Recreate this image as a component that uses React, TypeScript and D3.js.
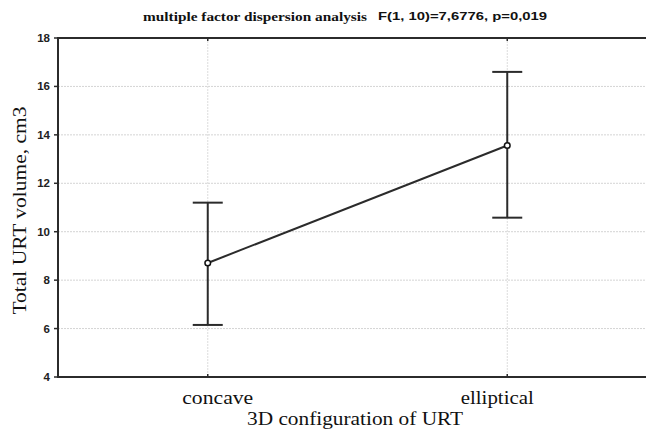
import React, { useEffect, useRef } from 'react';
import * as d3 from 'd3';

const categories = ['concave', 'elliptical'];
const means = [8.71, 13.56];
const upper = [11.2, 16.6];
const lower = [6.15, 10.58];
const yTicks = [4, 6, 8, 10, 12, 14, 16, 18];

const W = 646;
const H = 432;

const App: React.FC = () => {
  const svgRef = useRef<SVGSVGElement>(null);

  useEffect(() => {
    if (!svgRef.current) return;
    const svg = d3.select(svgRef.current);
    svg.selectAll('*').remove();

    const left = 58, top = 38, bottom = 377, right = 657;
    const serif = '"Liberation Serif", "Times New Roman", serif';
    const sans = '"Liberation Sans", Arial, sans-serif';
    const ink = '#2b2b2b';

    const x = d3.scalePoint<string>().domain(categories).range([left, right]).padding(0.5);
    const y = d3.scaleLinear().domain([4, 18]).range([bottom, top]);

    // grid
    svg.append('g').selectAll('line').data(yTicks.slice(1, -1)).join('line')
      .attr('x1', left).attr('x2', W).attr('y1', d => y(d)).attr('y2', d => y(d))
      .attr('stroke', '#d4d4d4').attr('stroke-width', 1).attr('stroke-dasharray', '2,1');
    svg.append('g').selectAll('line').data(categories).join('line')
      .attr('x1', d => x(d)!).attr('x2', d => x(d)!).attr('y1', top).attr('y2', bottom)
      .attr('stroke', '#dcdcdc').attr('stroke-width', 1).attr('stroke-dasharray', '2,1');

    // frame
    svg.append('line').attr('x1', left).attr('x2', W).attr('y1', top).attr('y2', top)
      .attr('stroke', ink).attr('stroke-width', 2);
    svg.append('line').attr('x1', left).attr('x2', W).attr('y1', bottom).attr('y2', bottom)
      .attr('stroke', ink).attr('stroke-width', 2);
    svg.append('line').attr('x1', left).attr('x2', left).attr('y1', top - 1).attr('y2', bottom + 1)
      .attr('stroke', ink).attr('stroke-width', 2);

    // y ticks
    const yg = svg.append('g');
    yg.selectAll('line').data(yTicks).join('line')
      .attr('x1', left - 4).attr('x2', left).attr('y1', d => y(d)).attr('y2', d => y(d))
      .attr('stroke', ink).attr('stroke-width', 1.5);
    yg.selectAll('text').data(yTicks).join('text')
      .attr('x', left - 8).attr('y', d => y(d)).attr('dy', '0.35em')
      .attr('text-anchor', 'end').attr('font-family', sans).attr('font-weight', 'bold')
      .attr('font-size', 11.5).attr('fill', '#222').text(d => d);

    // x ticks (top and bottom)
    categories.forEach(c => {
      svg.append('line').attr('x1', x(c)!).attr('x2', x(c)!).attr('y1', top).attr('y2', top + 3)
        .attr('stroke', ink).attr('stroke-width', 1.5);
      svg.append('line').attr('x1', x(c)!).attr('x2', x(c)!).attr('y1', bottom - 3).attr('y2', bottom)
        .attr('stroke', ink).attr('stroke-width', 1.5);
    });

    // category labels (source image is stretched horizontally)
    const labelShift = [10, -10];
    const labelLen = [71, 73];
    svg.append('g').selectAll('text').data(categories).join('text')
      .attr('x', (d, i) => x(d)! + labelShift[i]).attr('y', 404)
      .attr('text-anchor', 'middle').attr('font-family', serif).attr('font-size', 18)
      .attr('textLength', (_, i) => labelLen[i]).attr('lengthAdjust', 'spacingAndGlyphs')
      .attr('fill', '#111').text(d => d);

    // axis titles
    svg.append('text').attr('x', 355).attr('y', 425).attr('text-anchor', 'middle')
      .attr('font-family', serif).attr('font-size', 18).attr('fill', '#111')
      .attr('textLength', 216).attr('lengthAdjust', 'spacingAndGlyphs')
      .text('3D configuration of URT');
    svg.append('text').attr('transform', `translate(26, ${(top + bottom) / 2 + 3}) rotate(-90)`)
      .attr('text-anchor', 'middle').attr('font-family', serif).attr('font-size', 18).attr('fill', '#111')
      .attr('textLength', 208).attr('lengthAdjust', 'spacingAndGlyphs')
      .text('Total URT volume, cm3');

    // title
    svg.append('text').attr('x', 143).attr('y', 21).attr('fill', '#111')
      .attr('font-family', serif).attr('font-weight', 'bold').attr('font-size', 13)
      .attr('textLength', 224).attr('lengthAdjust', 'spacingAndGlyphs')
      .text('multiple factor dispersion analysis');
    svg.append('text').attr('x', 378).attr('y', 20).attr('fill', '#111')
      .attr('font-family', sans).attr('font-weight', 'bold').attr('font-size', 10.5)
      .attr('textLength', 169).attr('lengthAdjust', 'spacingAndGlyphs')
      .text('F(1, 10)=7,6776, p=0,019');

    // error bars
    const capHalf = 15;
    const bars = svg.append('g').attr('stroke', ink).attr('stroke-width', 2);
    categories.forEach((c, i) => {
      const cx = x(c)!;
      bars.append('line').attr('x1', cx).attr('x2', cx).attr('y1', y(upper[i])).attr('y2', y(lower[i]));
      bars.append('line').attr('x1', cx - capHalf).attr('x2', cx + capHalf).attr('y1', y(upper[i])).attr('y2', y(upper[i]));
      bars.append('line').attr('x1', cx - capHalf).attr('x2', cx + capHalf).attr('y1', y(lower[i])).attr('y2', y(lower[i]));
    });

    // mean line
    const line = d3.line<number>().x((_, i) => x(categories[i])!).y(d => y(d));
    svg.append('path').attr('d', line(means)).attr('fill', 'none')
      .attr('stroke', ink).attr('stroke-width', 2);
    svg.append('g').selectAll('circle').data(means).join('circle')
      .attr('cx', (_, i) => x(categories[i])!).attr('cy', d => y(d)).attr('r', 2.8)
      .attr('fill', '#fff').attr('stroke', '#111').attr('stroke-width', 1.5);
  }, []);

  return (
    <svg ref={svgRef} width={W} height={H}
      style={{ position: 'absolute', left: 0, top: 0, background: '#fff', display: 'block' }} />
  );
};

export default App;
